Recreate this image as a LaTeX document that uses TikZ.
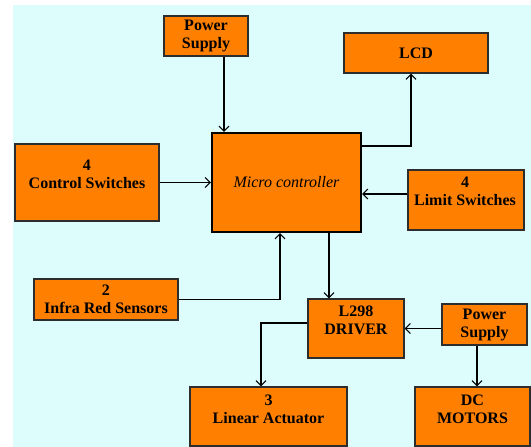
\documentclass[tikz,border=0pt]{standalone}
\usepackage{fontspec}
\setmainfont{Liberation Serif}
\usetikzlibrary{arrows.meta}
\definecolor{bgcyan}{RGB}{221,253,253}
\definecolor{boxorange}{RGB}{255,128,0}
\definecolor{edgegray}{RGB}{45,45,45}
\tikzset{
  blk/.style={draw=edgegray, line width=1.3pt, fill=boxorange, inner sep=0pt,
    align=center, font=\bfseries\fontsize{16}{18}\selectfont},
  txt/.style={inner sep=0pt, align=center, font=\bfseries\fontsize{16}{18}\selectfont},
  arr/.style={draw=black, line width=1.1pt, -{Straight Barb[length=5pt,width=10pt,line width=1.1pt]}},
}
\begin{document}
\begin{tikzpicture}[x=1pt,y=-1pt]
\useasboundingbox (0,0) rectangle (531,447);
\fill[white] (0,0) rectangle (531,447);
\fill[bgcyan] (13,5) rectangle (531,447);

\node[blk, minimum width=84pt, minimum height=40pt] (ps1) at (206,36) {Power\\Supply};
\node[blk, minimum width=144pt, minimum height=40pt] (lcd) at (416,53) {LCD};
\node[blk, draw=black, line width=2.3pt, minimum width=149pt, minimum height=99pt,
  font=\itshape\fontsize{16}{18}\selectfont] (mc) at (286.5,182.5) {Micro controller};
\node[blk, minimum width=144pt, minimum height=77pt] (cs) at (87,182.5) {};
\node[txt] (cst) at (87,174) {4\\Control Switches};
\node[blk, minimum width=116pt, minimum height=60pt] (ls) at (466,200) {};
\node[txt] (lst) at (465,191.5) {4\\Limit Switches};
\node[blk, minimum width=144pt, minimum height=41pt] (ir) at (106,299.5) {2\\Infra Red Sensors};
\node[blk, minimum width=96pt, minimum height=59pt] (drv) at (356,328.5) {};
\node[txt] (drvt) at (356,320) {L298\\DRIVER};
\node[blk, minimum width=85pt, minimum height=41pt] (ps2) at (484.5,324.5) {Power\\Supply};
\node[blk, minimum width=157pt, minimum height=59pt] (la) at (268.5,416.5) {};
\node[txt] (lat) at (268.5,409.5) {3\\Linear Actuator};
\node[blk, minimum width=115pt, minimum height=59pt] (dc) at (472.5,416.5) {};
\node[txt] (dct) at (472.5,409) {DC\\MOTORS};

% connectors
\draw[arr] ([xshift=18pt]ps1.south) -- ([xshift=18pt]ps1.south |- mc.north);
\draw[arr] ([yshift=36.5pt]mc.east) -| ([xshift=-5pt]lcd.south);
\draw[arr] (cs.east) -- (mc.west);
\draw[arr] ([yshift=6pt]ls.west) -- ([yshift=6pt]ls.west -| mc.east);
\draw[arr] (ir.east) -| ([xshift=-6.5pt]mc.south);
\draw[arr] ([xshift=42.5pt]mc.south) -- ([xshift=42.5pt]mc.south |- drv.north);
\draw[arr] (ps2.west |- drv.east) -- (drv.east);
\draw[arr] ([yshift=5.5pt]drv.west) -| ([xshift=-7.5pt]la.north);
\draw[arr] ([xshift=-7.5pt]ps2.south) -- ([xshift=-7.5pt]ps2.south |- dc.north);
\end{tikzpicture}
\end{document}
